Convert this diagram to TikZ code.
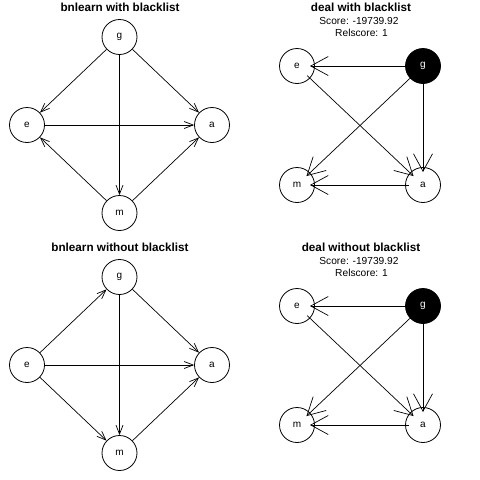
\documentclass[tikz,border=0pt]{standalone}
\usepackage{fontspec}
\setmainfont{Liberation Sans}
\usetikzlibrary{arrows.meta}
\begin{document}
\begin{tikzpicture}[x=1pt,y=-1pt,
  vtx/.style={circle,draw,line width=0.8pt,minimum size=35pt,inner sep=0pt,font=\fontsize{10}{12}\selectfont},
  blk/.style={vtx,fill=black,text=white},
  bnedge/.style={line width=0.7pt,-{Straight Barb[length=9pt,width=7pt]}},
  dledge/.style={line width=0.7pt,-{Straight Barb[length=17.5pt,width=19pt]},shorten <=14pt,shorten >=13pt},
  ttl/.style={font=\fontsize{11.7}{14}\selectfont\bfseries},
  sub/.style={font=\fontsize{10.2}{12}\selectfont}]
\useasboundingbox (0,0) rectangle (480,480);
% ---- bnlearn with blacklist
\node[ttl] (t1) at (120,7.5) {bnlearn with blacklist};
\node[vtx] (g1) at (119.5,37) {g};
\node[vtx] (e1) at (27,125) {e};
\node[vtx] (a1) at (212,125) {a};
\node[vtx] (m1) at (119.5,213) {m};
\draw[bnedge] (g1) -- (e1);
\draw[bnedge] (g1) -- (a1);
\draw[bnedge] (g1) -- (m1);
\draw[bnedge] (e1) -- (a1);
\draw[bnedge] (m1) -- (e1);
\draw[bnedge] (m1) -- (a1);
% ---- bnlearn without blacklist
\node[ttl] (t2) at (120,247.5) {bnlearn without blacklist};
\node[vtx] (g2) at (119.5,277) {g};
\node[vtx] (e2) at (27,365) {e};
\node[vtx] (a2) at (212,365) {a};
\node[vtx] (m2) at (119.5,453) {m};
\draw[bnedge] (e2) -- (g2);
\draw[bnedge] (g2) -- (a2);
\draw[bnedge] (g2) -- (m2);
\draw[bnedge] (e2) -- (a2);
\draw[bnedge] (e2) -- (m2);
\draw[bnedge] (m2) -- (a2);
% ---- deal with blacklist
\node[ttl] (t3) at (361,7.5) {deal with blacklist};
\node[sub] (s3) at (359,21) {Score: -19739.92};
\node[sub] (r3) at (361.5,32.5) {Relscore: 1};
\node[vtx] (e3) at (297,66) {e};
\node[blk] (g3) at (423,66) {g};
\node[vtx] (m3) at (297,185) {m};
\node[vtx] (a3) at (423,185) {a};
\draw[dledge] (g3.center) -- (e3.center);
\draw[dledge] (g3.center) -- (m3.center);
\draw[dledge] (g3.center) -- (a3.center);
\draw[dledge] (e3.center) -- (a3.center);
\draw[dledge] (a3.center) -- (m3.center);
% ---- deal without blacklist
\node[ttl] (t4) at (361,247.5) {deal without blacklist};
\node[sub] (s4) at (359,261) {Score: -19739.92};
\node[sub] (r4) at (361.5,272.5) {Relscore: 1};
\node[vtx] (e4) at (297,306) {e};
\node[blk] (g4) at (423,306) {g};
\node[vtx] (m4) at (297,425) {m};
\node[vtx] (a4) at (423,425) {a};
\draw[dledge] (g4.center) -- (e4.center);
\draw[dledge] (g4.center) -- (m4.center);
\draw[dledge] (g4.center) -- (a4.center);
\draw[dledge] (e4.center) -- (a4.center);
\draw[dledge] (a4.center) -- (m4.center);
\end{tikzpicture}
\end{document}
